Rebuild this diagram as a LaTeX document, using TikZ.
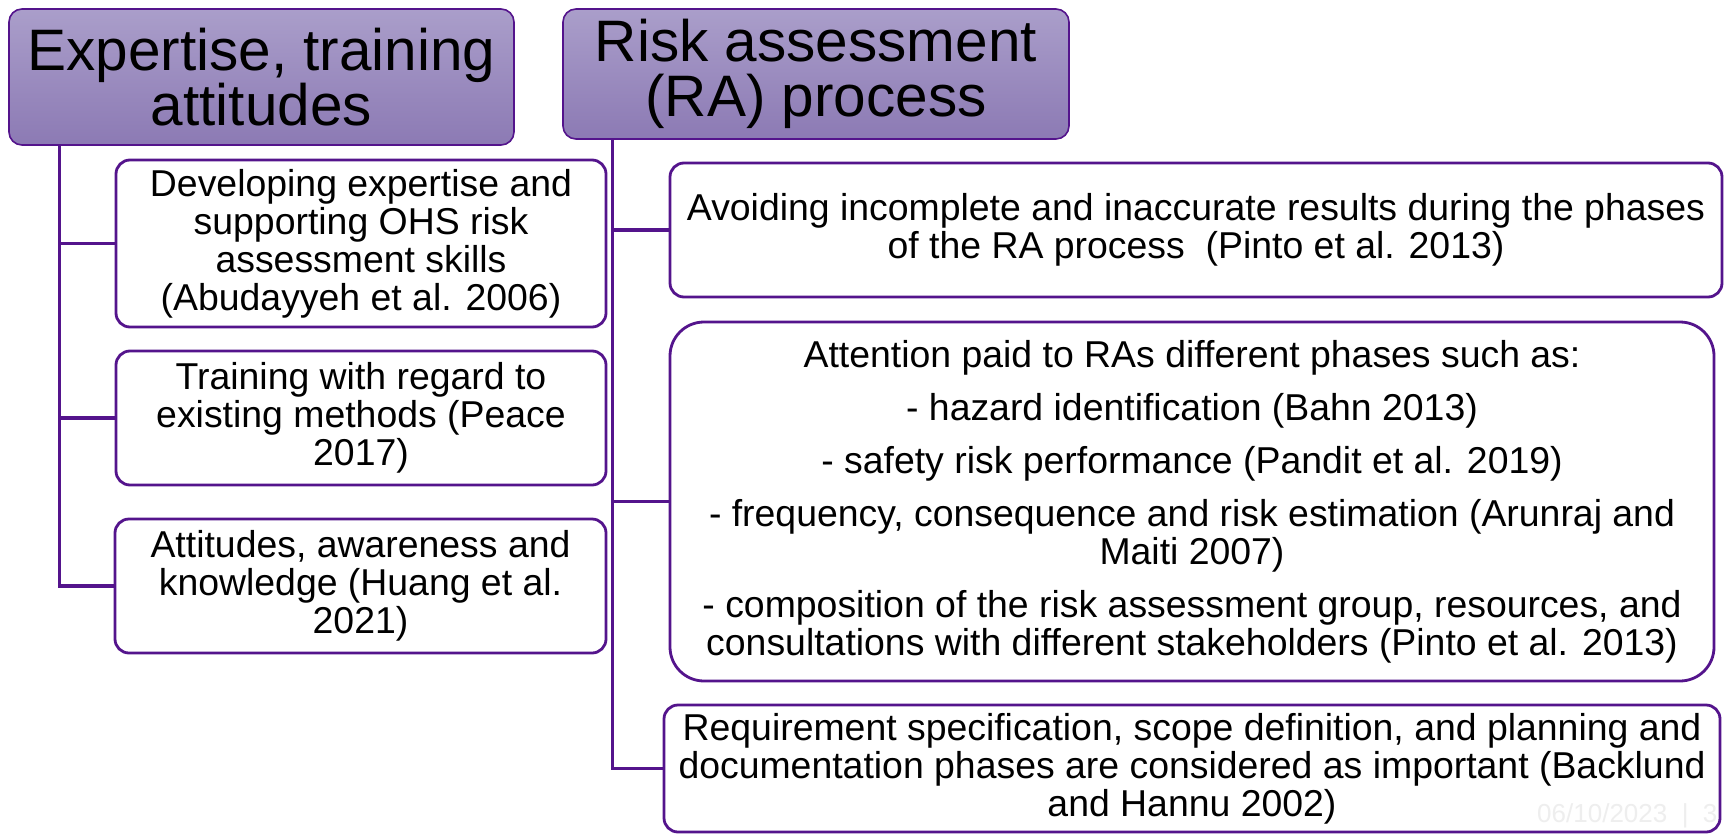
\documentclass[tikz,border=0pt]{standalone}
\usepackage{fontspec}
\setmainfont{Liberation Sans}
\definecolor{edge}{RGB}{84,20,140}
\definecolor{htop}{RGB}{170,158,202}
\definecolor{hbot}{RGB}{140,122,180}
\definecolor{datec}{RGB}{238,238,238}
\begin{document}
\begin{tikzpicture}[x=1pt,y=-1pt,
  head/.style={draw=edge,line width=1.6pt,rounded corners=13pt,top color=htop,bottom color=hbot,
    inner sep=0pt,align=center,font=\fontsize{58.5}{55}\selectfont},
  box/.style={draw=edge,line width=2.8pt,rounded corners=14pt,fill=white,inner sep=0pt,
    align=center,font=\fontsize{37.4}{38}\selectfont},
  link/.style={draw=edge,line width=3.3pt}]
\useasboundingbox (0,0) rectangle (1731,835);
\fill[white] (0,0) rectangle (1731,835);
% connectors (drawn first, under the boxes)
\node[head,minimum width=505pt,minimum height=136pt] (h1) at (261.5,77) {Expertise, training\\attitudes};
\node[head,minimum width=506pt,minimum height=130pt] (h2) at (816,74) {Risk assessment\\(RA) process};
% left boxes
\node[box,minimum width=490pt,minimum height=167pt] (L1) at (361,243.5)
  {Developing expertise and\\supporting OHS risk\\assessment skills\\(Abudayyeh et al. 2006)};
\node[box,minimum width=490pt,minimum height=134pt] (L2) at (361,418)
  {Training with regard to\\existing methods (Peace\\2017)};
\node[box,minimum width=491pt,minimum height=134pt] (L3) at (360.5,586)
  {Attitudes, awareness and\\knowledge (Huang et al.\\2021)};
% right boxes
\node[box,minimum width=1052pt,minimum height=134pt] (R1) at (1196,230)
  {Avoiding incomplete and inaccurate results during the phases\\of the RA process\ \ (Pinto et al. 2013)};
\node[box,rounded corners=34pt,minimum width=1044pt,minimum height=359pt] (R2) at (1192,501.5)
  {Attention paid to RAs different phases such as:\\[15pt]
   - hazard identification (Bahn 2013)\\[15pt]
   - safety risk performance (Pandit et al. 2019)\\[15pt]
   - frequency, consequence and risk estimation (Arunraj and\\Maiti 2007)\\[15pt]
   - composition of the risk assessment group, resources, and\\consultations with different stakeholders (Pinto et al. 2013)};
\node[box,minimum width=1056pt,minimum height=127pt] (R3) at (1192,768.5)
  {Requirement specification, scope definition, and planning and\\documentation phases are considered as important (Backlund\\and Hannu 2002)};
% connectors
\draw[link] ([xshift=51pt]h1.south west) |- (L1.west);
\draw[link] ([xshift=51pt]h1.south west) |- (L2.west);
\draw[link] ([xshift=51pt]h1.south west) |- (L3.west);
\draw[link] ([xshift=50pt]h2.south west) |- (R1.west);
\draw[link] ([xshift=50pt]h2.south west) |- (R2.west);
\draw[link] ([xshift=50pt]h2.south west) |- (R3.west);
% footer
\node[anchor=base west,inner sep=0pt,text=datec,font=\fontsize{26}{28}\selectfont] (date) at (1537,822) {06/10/2023\ \ |\ \ 3};
\end{tikzpicture}
\end{document}
